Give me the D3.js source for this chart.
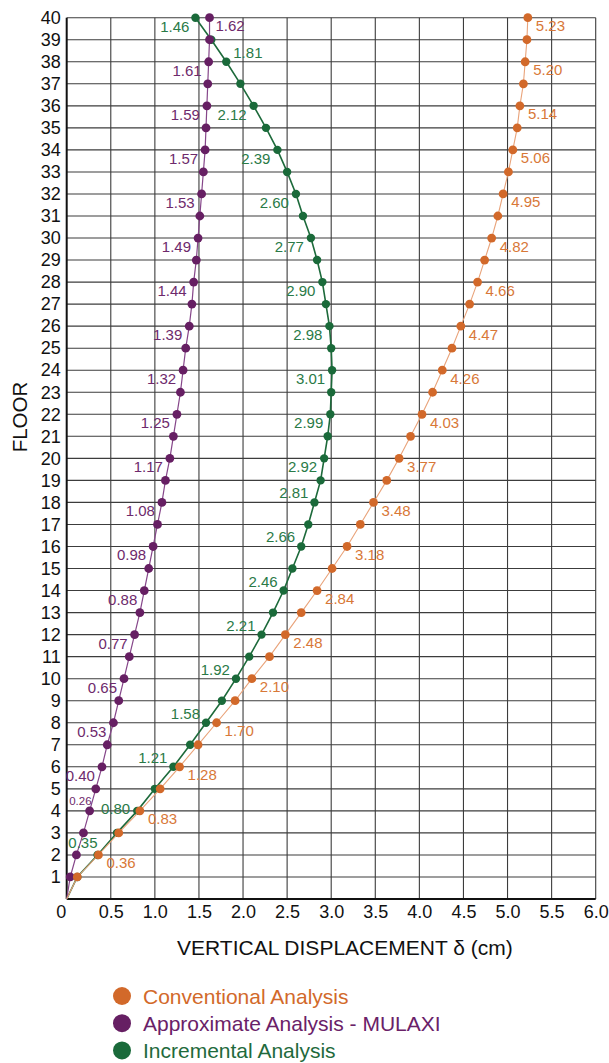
<!DOCTYPE html>
<html>
<head>
<meta charset="utf-8">
<script src="https://cdn.jsdelivr.net/npm/d3@7"></script>
<style>
  html, body { margin: 0; padding: 0; background: #fff; }
  svg { display: block; font-family: "Liberation Sans", Arial, Helvetica, sans-serif; }
</style>
</head>
<body>
<svg id="chart" width="609" height="1063"></svg>
<script>
// Floors of the building (vertical axis categories)
const floors = [1,2,3,4,5,6,7,8,9,10,11,12,13,14,15,16,17,18,19,20,
                21,22,23,24,25,26,27,28,29,30,31,32,33,34,35,36,37,38,39,40];

// Vertical displacement per floor (cm)
const conventional = [0.12,0.36,0.59,0.83,1.06,1.28,1.49,1.70,1.91,2.10,
                      2.30,2.48,2.66,2.84,3.01,3.18,3.33,3.48,3.63,3.77,
                      3.90,4.03,4.15,4.26,4.37,4.47,4.57,4.66,4.74,4.82,
                      4.89,4.95,5.01,5.06,5.11,5.14,5.18,5.20,5.22,5.23];
const mulaxi       = [0.04,0.11,0.19,0.26,0.33,0.40,0.46,0.53,0.59,0.65,
                      0.71,0.77,0.83,0.88,0.93,0.98,1.03,1.08,1.12,1.17,
                      1.21,1.25,1.29,1.32,1.35,1.39,1.42,1.44,1.47,1.49,
                      1.51,1.53,1.55,1.57,1.58,1.59,1.60,1.61,1.62,1.62];
const incremental  = [0.12,0.35,0.57,0.80,1.00,1.21,1.40,1.58,1.76,1.92,
                      2.07,2.21,2.34,2.46,2.56,2.66,2.74,2.81,2.88,2.92,
                      2.96,2.99,3.00,3.01,3.00,2.98,2.94,2.90,2.84,2.77,
                      2.68,2.60,2.50,2.39,2.26,2.12,1.97,1.81,1.64,1.46];

// Floors whose values are printed next to the markers
const conventionalLabelled = [2,4,6,8,10,12,14,16,18,20,22,24,26,28,30,32,34,36,38,40];
const mulaxiLabelled       = [4,6,8,10,12,14,16,18,20,22,24,26,28,30,32,34,36,38,40];
const incrementalLabelled  = [2,4,6,8,10,12,14,16,18,20,22,24,26,28,30,32,34,36,38,40];

// Axis ticks
const xTicks = [0,0.5,1.0,1.5,2.0,2.5,3.0,3.5,4.0,4.5,5.0,5.5,6.0];
const xTickLabels = ["0","0.5","1.0","1.5","2.0","2.5","3.0","3.5","4.0","4.5","5.0","5.5","6.0"];

const legendNames = ["Conventional Analysis", "Approximate Analysis - MULAXI", "Incremental Analysis"];

// ---------------------------------------------------------------
const svg = d3.select("#chart");
const plotLeft = 66.7, plotRight = 595.7, plotTop = 17.7, plotBottom = 899;

const x = d3.scaleLinear().domain([0, 6]).range([plotLeft, plotRight]);
const y = d3.scaleLinear().domain([0, 40]).range([plotBottom, plotTop]);

const fmt = d3.format(".2f");

// grid
const grid = svg.append("g").attr("class", "grid");
grid.selectAll("line.h").data(floors).join("line")
  .attr("class", "h")
  .attr("x1", plotLeft).attr("x2", plotRight)
  .attr("y1", d => y(d)).attr("y2", d => y(d))
  .attr("stroke", "#3c3c3c").attr("stroke-width", 1.1);
grid.selectAll("line.v").data(xTicks.filter(d => d > 0)).join("line")
  .attr("class", "v")
  .attr("x1", d => x(d)).attr("x2", d => x(d))
  .attr("y1", plotTop).attr("y2", plotBottom)
  .attr("stroke", "#3c3c3c").attr("stroke-width", 1.1);

// axis lines
svg.append("line").attr("x1", plotLeft).attr("x2", plotLeft).attr("y1", plotTop).attr("y2", plotBottom)
  .attr("stroke", "#111").attr("stroke-width", 2);
svg.append("line").attr("x1", plotLeft).attr("x2", plotRight).attr("y1", plotBottom).attr("y2", plotBottom)
  .attr("stroke", "#111").attr("stroke-width", 2);

// axes drawn through d3.axis, tick lines hidden
const yAxis = d3.axisLeft(y).tickValues(floors).tickSize(0).tickPadding(6).tickFormat(d3.format("d"));
const yG = svg.append("g").attr("transform", `translate(${plotLeft},0)`).call(yAxis);
yG.select(".domain").remove();
yG.selectAll("text").attr("font-size", 18).attr("fill", "#111")
  .attr("font-family", "'Liberation Sans', Arial, sans-serif");

const xAxis = d3.axisBottom(x).tickValues(xTicks).tickSize(0).tickPadding(6)
  .tickFormat((d, i) => xTickLabels[i]);
const xG = svg.append("g").attr("transform", `translate(0,${plotBottom})`).call(xAxis);
xG.select(".domain").remove();
xG.selectAll("text").attr("font-size", 18).attr("fill", "#111")
  .attr("font-family", "'Liberation Sans', Arial, sans-serif")
  .attr("dx", d => d === 0 ? -6 : 0);

// axis titles
svg.append("text")
  .attr("transform", `translate(19,417) rotate(-90)`)
  .attr("text-anchor", "middle").attr("dominant-baseline", "central")
  .attr("font-size", 20.5).attr("fill", "#111").text("FLOOR");
svg.append("text")
  .attr("x", 177).attr("y", 955)
  .attr("text-anchor", "start")
  .attr("font-size", 21).attr("fill", "#111").text("VERTICAL DISPLACEMENT δ (cm)");

// series
const series = [
  { key: "incremental", values: incremental, labelled: incrementalLabelled,
    marker: "#1a6a3a", line: "#1d6a3b", text: "#2a7a47", lw: 1.6, r: 4.2 },
  { key: "mulaxi", values: mulaxi, labelled: mulaxiLabelled,
    marker: "#661f63", line: "#86468a", text: "#6e2a6c", lw: 1.2, r: 4.4 },
  { key: "conventional", values: conventional, labelled: conventionalLabelled,
    marker: "#d2692a", line: "#e9a37a", text: "#d87838", lw: 1.1, r: 4.4 }
];

const line = d3.line().x(d => x(d.v)).y(d => y(d.f));

series.forEach(s => {
  const pts = floors.map((f, i) => ({ f, v: s.values[i] }));
  const g = svg.append("g").attr("class", s.key);
  g.append("path")
    .datum([{ f: 0, v: 0 }].concat(pts))
    .attr("d", line).attr("fill", "none")
    .attr("stroke", s.line).attr("stroke-width", s.lw);
  g.selectAll("circle").data(pts).join("circle")
    .attr("cx", d => x(d.v)).attr("cy", d => y(d.f)).attr("r", s.r)
    .attr("fill", s.marker);
});

// placement of value labels relative to their marker
function placement(key, f) {
  if (key === "conventional") return { anchor: "start", dx: 8, dy: 8, size: 15 };
  if (key === "mulaxi") {
    if (f === 40) return { anchor: "start", dx: 6, dy: 8, size: 15 };
    if (f === 4) return { anchor: "end", dx: 2, dy: -10, size: 11.5 };
    return { anchor: "end", dx: -7, dy: 8.5, size: 15 };
  }
  // incremental
  if (f === 40) return { anchor: "end", dx: -6, dy: 9, size: 15 };
  if (f === 38) return { anchor: "start", dx: 7, dy: -9, size: 15 };
  if (f >= 20) return { anchor: "end", dx: -7, dy: 8.5, size: 15 };
  if (f >= 6) return { anchor: "end", dx: -6, dy: -9.5, size: 15 };
  if (f === 4) return { anchor: "end", dx: -7, dy: -2, size: 15 };
  return { anchor: "end", dx: 0, dy: -12, size: 15 };
}

const labelLayer = svg.append("g").attr("class", "value-labels");
series.forEach(s => {
  s.labelled.forEach(f => {
    const v = s.values[f - 1];
    const p = placement(s.key, f);
    labelLayer.append("text")
      .attr("x", x(v) + p.dx)
      .attr("y", y(f) + p.dy)
      .attr("dominant-baseline", "central")
      .attr("text-anchor", p.anchor)
      .attr("font-size", p.size)
      .attr("fill", s.text)
      .text(fmt(v));
  });
});

// legend
const legendColors = ["#d2692a", "#661f63", "#1a6a3a"];
const legendText = ["#d2692a", "#6a2168", "#1f6a3c"];
const lg = svg.append("g").attr("class", "legend");
legendNames.forEach((name, i) => {
  const cy = 996 + i * 27.2;
  lg.append("circle").attr("cx", 122).attr("cy", cy).attr("r", 9).attr("fill", legendColors[i]);
  lg.append("text").attr("x", 143).attr("y", cy)
    .attr("dominant-baseline", "central")
    .attr("font-size", 21).attr("fill", legendText[i]).text(name);
});
</script>
</body>
</html>
